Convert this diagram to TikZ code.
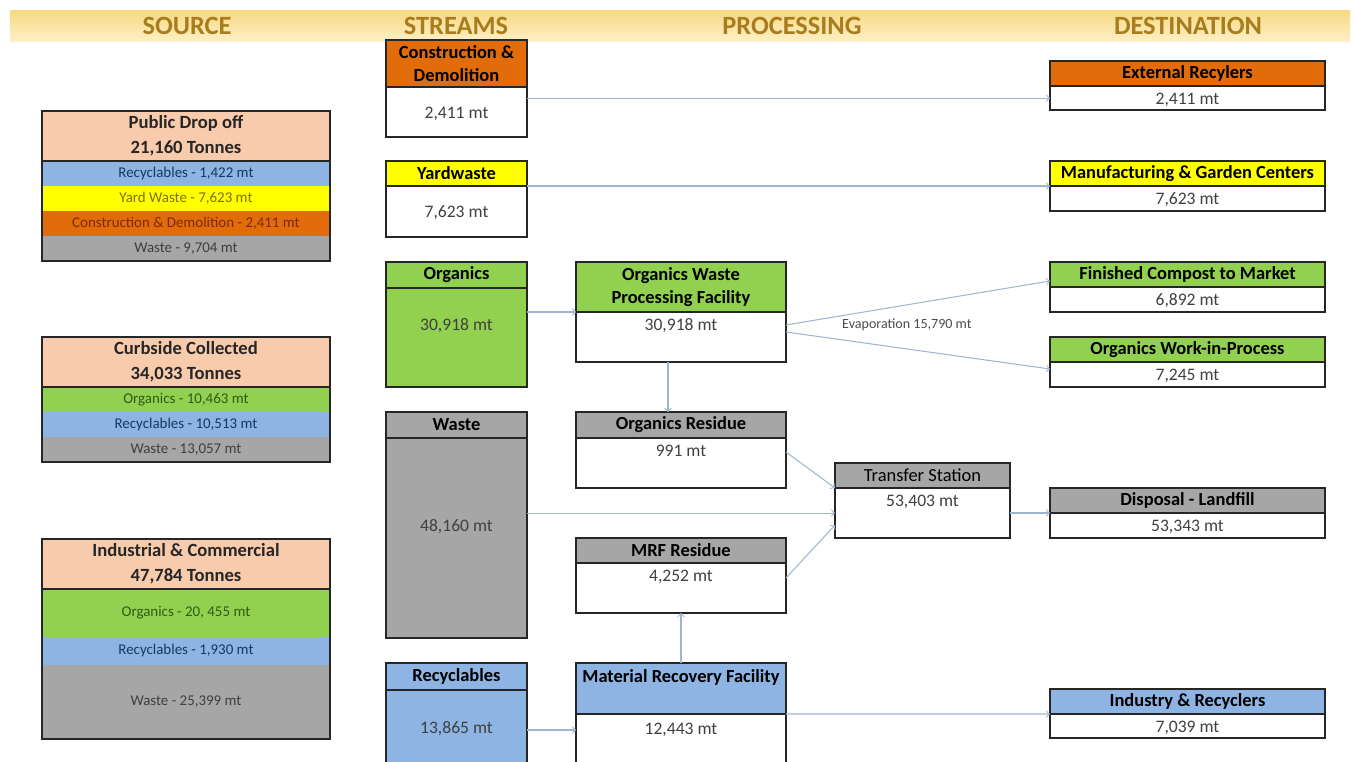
\documentclass[tikz,border=0pt]{standalone}
\usepackage{fontspec}
\setmainfont{Carlito}
\usepackage{tikz}
\usetikzlibrary{positioning}

\definecolor{peach}{HTML}{F8CBAD}
\definecolor{rblue}{HTML}{8DB4E2}
\definecolor{ywfill}{HTML}{FFFF00}
\definecolor{cdorange}{HTML}{E26B0A}
\definecolor{wgray}{HTML}{A6A6A6}
\definecolor{orggreen}{HTML}{92D050}
\definecolor{flow}{HTML}{9FB6D2}
\definecolor{bandtop}{HTML}{F8D981}
\definecolor{bandbot}{HTML}{FDEFC6}
\definecolor{titletxt}{HTML}{A87D1E}
\definecolor{rtxt}{HTML}{17375E}
\definecolor{ytxt}{HTML}{7F7000}
\definecolor{cdtxt}{HTML}{7B2C06}
\definecolor{wtxt}{HTML}{3F3F3F}
\definecolor{gtxt}{HTML}{2E5C12}

\tikzset{
  box/.style={draw=black!85, line width=0.9pt, inner sep=0pt, outer sep=0pt, align=center},
  hd/.style={box, font=\fontsize{10.5}{13.5}\selectfont\bfseries, minimum height=0.5cm},
  val/.style={box, fill=white, font=\fontsize{10}{12}\selectfont, text=black!75, text height=8.5pt, inner ysep=2pt},
  topval/.style={val, text depth=16pt},
  stm/.style={minimum width=2.82cm},
  prc/.style={minimum width=4.2cm},
  dst/.style={minimum width=5.5cm},
  srchd/.style={box, fill=peach, text=black!85, minimum width=5.76cm, minimum height=1cm, font=\fontsize{10.6}{14}\selectfont\bfseries},
  srcrow/.style={inner sep=0pt, outer sep=0pt, minimum width=5.76cm, minimum height=0.5cm, font=\fontsize{8.5}{9}\selectfont},
  coltitle/.style={font=\fontsize{15}{17}\selectfont\bfseries, text=titletxt},
  flowline/.style={draw=flow, line width=0.6pt, ->}
}

\begin{document}
\begin{tikzpicture}[x=0.02cm, y=-0.02cm]

    \useasboundingbox (0,0) rectangle (1358,761);

    % title band
    \shade[top color=bandtop, bottom color=bandbot] (10,10) rectangle (1350,41);
    \node[coltitle] (tsrc) at (187,26) {SOURCE};
    \node[coltitle] (tstm) at (456,26) {STREAMS};
    \node[coltitle] (tprc) at (792,26) {PROCESSING};
    \node[coltitle] (tdst) at (1188,26) {DESTINATION};

    % sources
    \node[srchd, anchor=north west] (pdo) at (42,111) {Public Drop off\\21,160 Tonnes};
    \node[srcrow, fill=rblue, text=rtxt, below=0pt of pdo] (pdo1) {Recyclables - 1,422 mt};
    \node[srcrow, fill=ywfill, text=ytxt, below=0pt of pdo1] (pdo2) {Yard Waste - 7,623 mt};
    \node[srcrow, fill=cdorange, text=cdtxt, below=0pt of pdo2] (pdo3) {Construction \& Demolition - 2,411 mt};
    \node[srcrow, fill=wgray, text=wtxt, below=0pt of pdo3] (pdo4) {Waste - 9,704 mt};
    \draw[line width=0.9pt, black!85] (pdo.north west) rectangle (pdo4.south east);
    \draw[line width=0.9pt, black!85] (pdo.south west) -- (pdo.south east);

    \node[srchd, anchor=north west] (cbs) at (42,337) {Curbside Collected\\34,033 Tonnes};
    \node[srcrow, fill=orggreen, text=gtxt, below=0pt of cbs] (cbs1) {Organics - 10,463 mt};
    \node[srcrow, fill=rblue, text=rtxt, below=0pt of cbs1] (cbs2) {Recyclables - 10,513 mt};
    \node[srcrow, fill=wgray, text=wtxt, below=0pt of cbs2] (cbs3) {Waste - 13,057 mt};
    \draw[line width=0.9pt, black!85] (cbs.north west) rectangle (cbs3.south east);
    \draw[line width=0.9pt, black!85] (cbs.south west) -- (cbs.south east);

    \node[srchd, anchor=north west] (inc) at (42,539) {Industrial \& Commercial\\47,784 Tonnes};
    \node[srcrow, fill=orggreen, text=gtxt, minimum height=0.96cm, below=0pt of inc] (inc1) {Organics - 20, 455 mt};
    \node[srcrow, fill=rblue, text=rtxt, minimum height=0.56cm, below=0pt of inc1] (inc2) {Recyclables - 1,930 mt};
    \node[srcrow, fill=wgray, text=wtxt, minimum height=1.48cm, below=0pt of inc2] (inc3) {Waste - 25,399 mt};
    \draw[line width=0.9pt, black!85] (inc.north west) rectangle (inc3.south east);
    \draw[line width=0.9pt, black!85] (inc.south west) -- (inc.south east);

    % streams
    \node[hd, stm, fill=cdorange, minimum height=0.94cm, anchor=north west] (cdh) at (386,40) {Construction \&\\Demolition};
    \node[val, stm, minimum height=1cm, below=0pt of cdh] (cd) {2,411 mt};

    \node[hd, stm, fill=ywfill, anchor=north west] (ywh) at (386,161) {Yardwaste};
    \node[val, stm, minimum height=1.02cm, below=0pt of ywh] (yw) {7,623 mt};

    \node[hd, stm, fill=orggreen, minimum height=0.52cm, anchor=north west] (orgh) at (386,262) {Organics};
    \node[topval, stm, fill=orggreen, minimum height=1.98cm, below=0pt of orgh] (org) {30,918 mt};

    \node[hd, stm, fill=wgray, minimum height=0.52cm, anchor=north west] (wsth) at (386,412) {Waste};
    \node[topval, stm, fill=wgray, minimum height=4cm, below=0pt of wsth] (wst) {48,160 mt};

    \node[hd, stm, fill=rblue, minimum height=0.54cm, anchor=north west] (rech) at (386,663) {Recyclables};
    \node[topval, stm, fill=rblue, minimum height=2cm, below=0pt of rech] (rec) {13,865 mt};

    % processing
    \node[hd, prc, fill=orggreen, minimum height=1cm, anchor=north west] (owpfh) at (576,262) {Organics Waste\\Processing Facility};
    \node[topval, prc, minimum height=1cm, below=0pt of owpfh] (owpf) {30,918 mt};

    \node[hd, prc, fill=wgray, minimum height=0.52cm, anchor=north west] (oresh) at (576,412) {Organics Residue};
    \node[topval, prc, minimum height=1cm, below=0pt of oresh] (ores) {991 mt};

    \node[hd, prc, fill=wgray, anchor=north west] (mrfrh) at (576,538) {MRF Residue};
    \node[topval, prc, minimum height=1cm, below=0pt of mrfrh] (mrfr) {4,252 mt};

    \node[hd, prc, fill=rblue, minimum height=1.02cm, text height=8.5pt, text depth=15pt, anchor=north west] (mrfh) at (576,663) {Material Recovery Facility};
    \node[topval, prc, minimum height=1.1cm, below=0pt of mrfh] (mrf) {12,443 mt};

    \node[hd, fill=wgray, minimum width=3.5cm, font=\fontsize{10.5}{12}\selectfont, anchor=north west] (tsh) at (835,463) {Transfer Station};
    \node[topval, minimum width=3.5cm, minimum height=1cm, below=0pt of tsh] (ts) {53,403 mt};

    % destinations
    \node[hd, dst, fill=cdorange, anchor=north west] (exth) at (1050,61) {External Recylers};
    \node[val, dst, minimum height=0.48cm, below=0pt of exth] (ext) {2,411 mt};

    \node[hd, dst, fill=ywfill, anchor=north west] (mgch) at (1050,161) {Manufacturing \& Garden Centers};
    \node[val, dst, minimum height=0.5cm, below=0pt of mgch] (mgc) {7,623 mt};

    \node[hd, dst, fill=orggreen, anchor=north west] (fcmh) at (1050,262) {Finished Compost to Market};
    \node[val, dst, minimum height=0.5cm, below=0pt of fcmh] (fcm) {6,892 mt};

    \node[hd, dst, fill=orggreen, anchor=north west] (wiph) at (1050,337) {Organics Work-in-Process};
    \node[val, dst, minimum height=0.5cm, below=0pt of wiph] (wip) {7,245 mt};

    \node[hd, dst, fill=wgray, anchor=north west] (disph) at (1050,488) {Disposal - Landfill};
    \node[val, dst, minimum height=0.5cm, below=0pt of disph] (disp) {53,343 mt};

    \node[hd, dst, fill=rblue, anchor=north west] (indh) at (1050,689) {Industry \& Recyclers};
    \node[val, dst, minimum height=0.48cm, below=0pt of indh] (ind) {7,039 mt};

    \node[font=\fontsize{8}{9}\selectfont, text=black!70, anchor=west] (evap) at (836,325) {Evaporation 15,790 mt};

    % flows
    \coordinate (mrfin) at ([yshift=-0.32cm]mrf.north west);

    \draw[flowline] (cd.east |- ext.west) -- (ext.west);
    \draw[flowline] (yw.east |- mgc.north west) -- (mgc.north west);
    \draw[flowline] (org.east |- owpf.north west) -- (owpf.north west);
    \draw[flowline] ([yshift=-0.26cm]owpf.north east) -- ([yshift=0.12cm]fcm.north west);
    \draw[flowline] ([yshift=-0.4cm]owpf.north east) -- ([yshift=-0.14cm]wip.north west);
    \draw[flowline] ([xshift=-0.26cm]owpf.south) -- ([xshift=-0.26cm]oresh.north);
    \draw[flowline] ([yshift=-0.28cm]ores.north east) -- (ts.north west);
    \draw[flowline] (wst.east |- ts.west) -- (ts.west);
    \draw[flowline] ([yshift=-0.3cm]mrfr.north east) -- ([yshift=0.26cm]ts.south west);
    \draw[flowline] (mrfh.north) -- (mrfr.south);
    \draw[flowline] (rec.east |- mrfin) -- (mrfin);
    \draw[flowline] (mrf.north east) -- (ind.north west);
    \draw[flowline] (ts.east |- disp.north west) -- (disp.north west);

\end{tikzpicture}
\end{document}
